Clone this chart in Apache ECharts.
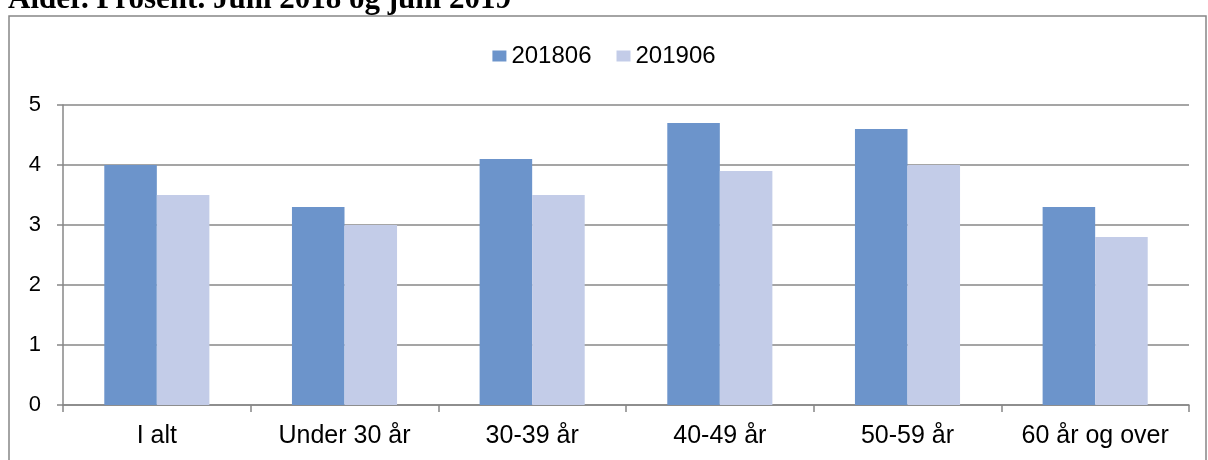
<!DOCTYPE html>
<html>
<head>
<meta charset="utf-8">
<script src="https://cdn.jsdelivr.net/npm/echarts@6/dist/echarts.min.js"></script>
<style>
  html, body { margin: 0; padding: 0; background: #fff; }
  #chart-panel { width: 1208px; height: 460px; }
</style>
</head>
<body>
<div id="chart-panel"></div>
<script>
// data
const categories = ["I alt", "Under 30 år", "30-39 år", "40-49 år", "50-59 år", "60 år og over"]
const seriesNames = ["201806", "201906"]
const values2018 = [4.0, 3.3, 4.1, 4.7, 4.6, 3.3]
const values2019 = [3.5, 3.0, 3.5, 3.9, 4.0, 2.8]
const yTicks = [0, 1, 2, 3, 4, 5]

const color = ["#6c94cb", "#c3cce8"]
const gridColor = "#878787"
const font = "Liberation Sans"

const chart = echarts.init(document.getElementById("chart-panel"), null, { renderer: "canvas" })

const options = {
  animation: false,
  graphic: [
    {
      // cut-off heading above the chart frame
      type: "text",
      left: 8,
      top: -16,
      style: {
        text: "Alder. Prosent. Juni 2018 og juni 2019",
        font: "bold 31px 'Liberation Serif', serif",
        fill: "#000"
      }
    },
    {
      type: "rect",
      shape: { x: 9, y: 16, width: 1197, height: 470 },
      style: { fill: "none", stroke: gridColor, lineWidth: 1.5 },
      silent: true
    }
  ],
  legend: {
    data: seriesNames,
    top: 39,
    left: "center",
    itemWidth: 14,
    itemHeight: 11,
    itemGap: 25,
    icon: "rect",
    textStyle: { fontFamily: font, fontSize: 24, color: "#000" }
  },
  grid: {
    left: 63,
    right: 19,
    top: 105,
    bottom: 55,
    containLabel: false
  },
  xAxis: {
    type: "category",
    data: categories,
    axisLine: { show: true, lineStyle: { color: gridColor, width: 1.5 } },
    axisTick: { show: true, length: 7, lineStyle: { color: gridColor, width: 1.5 } },
    axisLabel: { margin: 19, color: "#000", fontFamily: font, fontSize: 25, interval: 0 }
  },
  yAxis: {
    type: "value",
    min: yTicks[0],
    max: yTicks[yTicks.length - 1],
    interval: 1,
    axisLine: { show: true, lineStyle: { color: gridColor, width: 1.5 } },
    axisTick: { show: true, length: 6, lineStyle: { color: gridColor, width: 1.5 } },
    axisLabel: { margin: 22, color: "#000", fontFamily: font, fontSize: 22 },
    splitLine: { show: true, lineStyle: { color: gridColor, width: 1.5 } }
  },
  series: [
    {
      name: seriesNames[0],
      type: "bar",
      data: values2018,
      barGap: "0%",
      barCategoryGap: "44%",
      itemStyle: { color: color[0] }
    },
    {
      name: seriesNames[1],
      type: "bar",
      data: values2019,
      barGap: "0%",
      barCategoryGap: "44%",
      itemStyle: { color: color[1] }
    }
  ]
}
chart.setOption(options)
</script>
</body>
</html>
